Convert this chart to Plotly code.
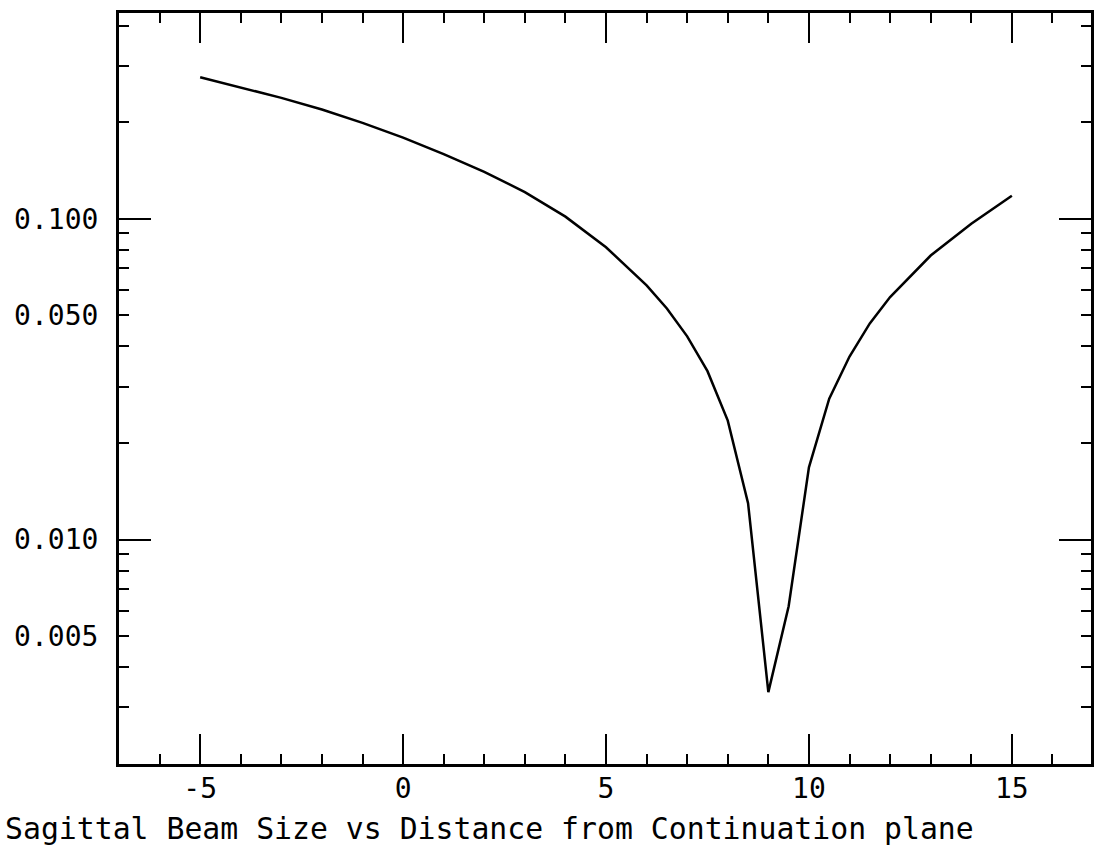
import plotly.graph_objects as go

# Distance from continuation plane
distance = [-5, -4, -3, -2, -1, 0, 1, 2, 3, 4, 5, 6, 6.5, 7, 7.5, 8, 8.5, 9, 9.5, 10,
            10.5, 11, 11.5, 12, 13, 14, 15]
# Sagittal beam size
beam_size = [0.276, 0.257, 0.238, 0.219, 0.199, 0.179, 0.159, 0.140, 0.121, 0.1015,
             0.0815, 0.0620, 0.0525, 0.0430, 0.0335, 0.0235, 0.0130, 0.00335, 0.0062, 0.0168,
             0.0275, 0.0372, 0.0472, 0.0570, 0.0768, 0.0965, 0.118]

x_major = [-5, 0, 5, 10, 15]
x_labels = ["-5", "0", "5", "10", "15"]
y_major = [0.005, 0.01, 0.05, 0.1]
y_labels = ["0.005", "0.010", "0.050", "0.100"]
y_decades = [0.01, 0.1]
y_minor = [0.002, 0.003, 0.004, 0.006, 0.007, 0.008, 0.009,
           0.02, 0.03, 0.04, 0.06, 0.07, 0.08, 0.09,
           0.2, 0.3, 0.4]

title_text = "Sagittal Beam Size vs Distance from Continuation plane"

FONT = "DejaVu Sans Mono"
x_range = [-7, 16.95]
y_range = [-2.69897, -0.359]

fig = go.Figure()
fig.add_trace(go.Scatter(x=distance, y=beam_size, mode="lines",
                         line=dict(color="black", width=2.5), showlegend=False,
                         hoverinfo="skip"))
# the same series bound to the overlay axes that carry the long decade ticks
for ax in ("y2", "y3"):
    fig.add_trace(go.Scatter(x=distance, y=beam_size, mode="lines", yaxis=ax,
                             line=dict(color="black", width=0), showlegend=False,
                             hoverinfo="skip"))

decade_axis = dict(
    type="log", range=y_range, overlaying="y", anchor="x",
    showgrid=False, zeroline=False, showline=True, linecolor="black", linewidth=3,
    tickmode="array", tickvals=y_decades, showticklabels=False,
    ticks="inside", ticklen=32, tickwidth=2, tickcolor="black",
)

fig.update_layout(
    width=1095, height=852,
    margin=dict(l=119, r=1, t=13, b=88),
    paper_bgcolor="white", plot_bgcolor="white",
    showlegend=False,
    title=dict(text=title_text, font=dict(family=FONT, size=29.8, color="black"),
               x=5/1095, xanchor="left", xref="container",
               y=1 - 829/852, yanchor="middle", yref="container"),
    xaxis=dict(
        range=x_range, showgrid=False, zeroline=False,
        showline=True, linecolor="black", linewidth=3, mirror="ticks",
        tickmode="array", tickvals=x_major, ticktext=x_labels,
        ticks="inside", ticklen=30, tickwidth=2, tickcolor="black",
        ticklabelstandoff=-3,
        tickfont=dict(family=FONT, size=28, color="black"),
        minor=dict(dtick=1, tick0=0, ticks="inside", ticklen=10, tickwidth=2,
                   tickcolor="black", showgrid=False),
    ),
    yaxis=dict(
        type="log", range=y_range, showgrid=False, zeroline=False,
        showline=True, linecolor="black", linewidth=3, mirror="ticks",
        tickmode="array", tickvals=y_major, ticktext=y_labels,
        ticks="inside", ticklen=10, tickwidth=2, tickcolor="black",
        ticklabelstandoff=12,
        tickfont=dict(family=FONT, size=28, color="black"),
        minor=dict(tickmode="array", tickvals=y_minor, ticks="inside", ticklen=10,
                   tickwidth=2, tickcolor="black", showgrid=False),
    ),
    yaxis2=dict(decade_axis, side="left"),
    yaxis3=dict(decade_axis, side="right"),
)

fig.write_html("out.html", config={"displayModeBar": False},
               post_script="document.body.style.margin='0';document.body.style.overflow='hidden';")
